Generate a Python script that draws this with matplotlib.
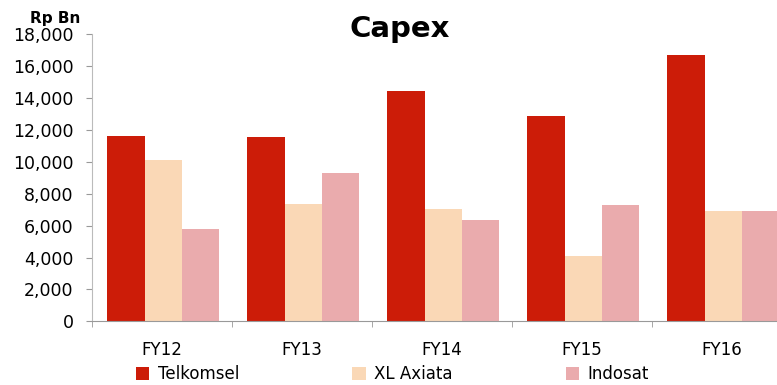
import matplotlib.pyplot as plt
import numpy as np

years = ['FY12', 'FY13', 'FY14', 'FY15', 'FY16']
telkomsel = [11650, 11550, 14450, 12900, 16700]
xl_axiata = [10120, 7340, 7030, 4120, 6950]
indosat = [5780, 9290, 6360, 7300, 6950]

series = ['Telkomsel', 'XL Axiata', 'Indosat']
colors = ['#CC1C08', '#FAD8B6', '#EAABAD']

fig = plt.figure(figsize=(7.77, 3.85), dpi=100)
ax = fig.add_axes([0.1184, 0.1655, 0.9009, 0.745])

x = np.arange(len(years))
w = 0.2667
bars = []
for i, (vals, name, c) in enumerate(zip([telkomsel, xl_axiata, indosat], series, colors)):
    b = ax.bar(x + (i - 1) * w + 0.01, vals, width=w, color=c, label=name)
    bars.append(b)

ax.set_xlim(-0.5, 4.5)
ax.set_ylim(0, 18000)
ax.set_yticks(range(0, 18001, 2000))
ax.set_yticklabels([f'{v:,}' for v in range(0, 18001, 2000)], fontsize=12.5)
ax.set_xticks(x)
ax.set_xticklabels(years, fontsize=12)
ax.set_xticks(np.arange(-0.5, 5, 1), minor=True)
ax.tick_params(axis='x', which='major', length=0, pad=14)
ax.tick_params(axis='x', which='minor', length=4, color='#999999')
ax.tick_params(axis='y', length=4.3, color='#999999', pad=9)

for s in ['top', 'right']:
    ax.spines[s].set_visible(False)
ax.spines['left'].set_color('#bbbbbb')
ax.spines['bottom'].set_color('#999999')

fig.text(0.515, 0.925, 'Capex', ha='center', va='center', fontsize=21, fontweight='bold')
fig.text(0.071, 0.952, 'Rp Bn', ha='center', va='center', fontsize=11, fontweight='bold')

fig.legend(handles=bars, labels=series, loc='center', bbox_to_anchor=(0.505, 0.028),
           ncol=3, frameon=False, fontsize=12, handlelength=0.8, handleheight=0.8,
           handletextpad=0.5, columnspacing=6.8)

plt.savefig('out.png', dpi=100)
